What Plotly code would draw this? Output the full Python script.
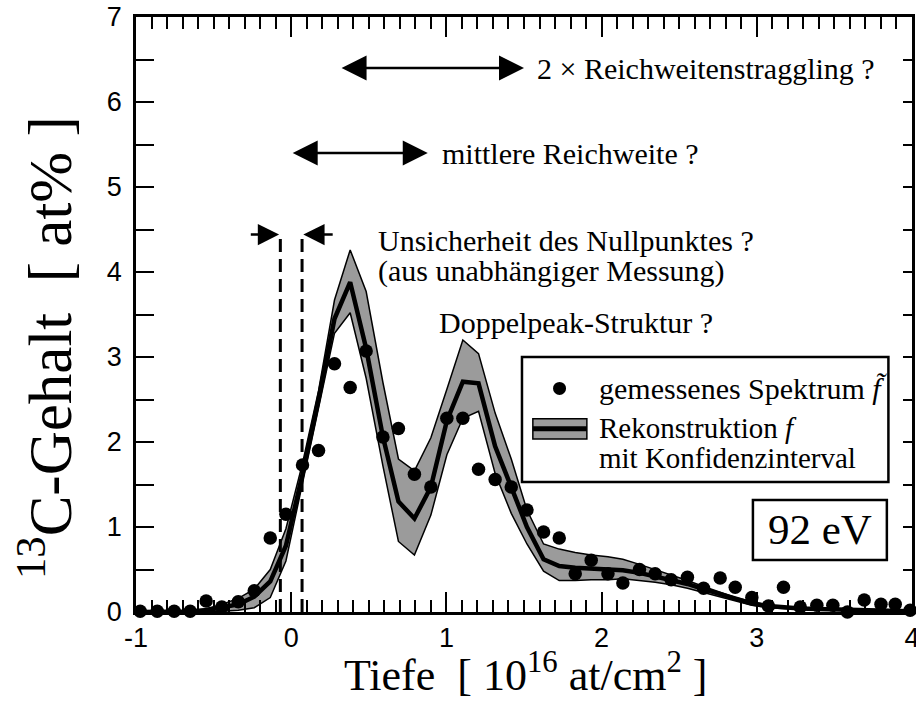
import plotly.graph_objects as go

# Depth grid (10^16 at/cm^2)
tiefe = [-0.973, -0.863, -0.754, -0.651, -0.548, -0.447, -0.341, -0.238, -0.135, -0.034,
         0.073, 0.176, 0.279, 0.380, 0.483, 0.591, 0.691, 0.794, 0.900, 1.003,
         1.106, 1.207, 1.314, 1.418, 1.519, 1.626, 1.727, 1.830, 1.933, 2.041,
         2.137, 2.244, 2.345, 2.448, 2.553, 2.657, 2.764, 2.861, 2.968, 3.075,
         3.172, 3.280, 3.387, 3.490, 3.584, 3.692, 3.800, 3.892, 3.988]

# Measured spectrum (at%)
gemessen = [0.01, 0.01, 0.01, 0.01, 0.13, 0.06, 0.12, 0.25, 0.87, 1.15,
            1.73, 1.90, 2.92, 2.64, 3.07, 2.06, 2.16, 1.62, 1.47, 2.28,
            2.28, 1.68, 1.56, 1.47, 1.20, 0.94, 0.87, 0.45, 0.61, 0.45,
            0.34, 0.50, 0.45, 0.38, 0.41, 0.28, 0.40, 0.29, 0.17, 0.07,
            0.29, 0.06, 0.08, 0.08, 0.00, 0.14, 0.09, 0.09, 0.02]

# Reconstruction and confidence interval (at%)
rekonstruktion = [0.0, 0.0, 0.0, 0.005, 0.02, 0.05, 0.09, 0.18, 0.36, 0.78,
                  1.62, 2.50, 3.45, 3.88, 3.10, 2.06, 1.30, 1.10, 1.47, 2.25,
                  2.71, 2.69, 1.95, 1.47, 1.00, 0.62, 0.54, 0.52, 0.51, 0.50,
                  0.49, 0.46, 0.42, 0.38, 0.33, 0.27, 0.21, 0.15, 0.10, 0.07,
                  0.05, 0.04, 0.035, 0.03, 0.025, 0.02, 0.02, 0.015, 0.01]
obere_grenze = [0.0, 0.0, 0.0, 0.01, 0.04, 0.09, 0.16, 0.27, 0.50, 0.98,
                1.75, 2.60, 3.67, 4.26, 3.77, 2.70, 1.80, 1.66, 2.05, 2.62,
                3.20, 3.04, 2.34, 1.80, 1.20, 0.80, 0.74, 0.70, 0.67, 0.65,
                0.62, 0.56, 0.50, 0.43, 0.37, 0.30, 0.23, 0.17, 0.12, 0.08,
                0.06, 0.05, 0.04, 0.035, 0.03, 0.025, 0.02, 0.02, 0.015]
untere_grenze = [0.0, 0.0, 0.0, 0.0, 0.0, 0.01, 0.02, 0.05, 0.17, 0.60,
                 1.50, 2.40, 3.28, 3.52, 2.75, 1.72, 0.83, 0.67, 1.14, 1.85,
                 2.28, 2.36, 1.63, 1.16, 0.80, 0.48, 0.37, 0.37, 0.38, 0.38,
                 0.39, 0.37, 0.35, 0.32, 0.28, 0.23, 0.18, 0.13, 0.08, 0.05,
                 0.04, 0.03, 0.03, 0.025, 0.02, 0.015, 0.015, 0.01, 0.01]

# Zero-point uncertainty, mean range and 2x range straggling (10^16 at/cm^2)
nullpunkt = [-0.07, 0.07]
mittlere_reichweite = [0.0, 0.88]
straggling = [0.315, 1.50]

x_ticks = [-1, 0, 1, 2, 3, 4]
y_ticks = [0, 1, 2, 3, 4, 5, 6, 7]

SERIF = "Liberation Serif, Times New Roman, serif"
SANS = "Liberation Sans, Arial, sans-serif"
GRAU = "#9b9b9b"

fig = go.Figure()

# confidence band
fig.add_trace(go.Scatter(x=tiefe, y=obere_grenze, mode="lines",
                         line=dict(color="black", width=1.5), showlegend=False,
                         hoverinfo="skip"))
fig.add_trace(go.Scatter(x=tiefe, y=untere_grenze, mode="lines", fill="tonexty",
                         fillcolor=GRAU, line=dict(color="black", width=1.5),
                         showlegend=False, hoverinfo="skip"))
# reconstruction
fig.add_trace(go.Scatter(x=tiefe, y=rekonstruktion, mode="lines",
                         line=dict(color="black", width=4.5), showlegend=False))
# measured spectrum
fig.add_trace(go.Scatter(x=tiefe, y=gemessen, mode="markers",
                         marker=dict(color="black", size=13.5), cliponaxis=False,
                         showlegend=False))

# invisible trace to carry the right-hand y axis
fig.add_trace(go.Scatter(x=[None], y=[None], yaxis="y2", showlegend=False))

shapes = []
# zero-point dashed markers
for xv in nullpunkt:
    shapes.append(dict(type="line", xref="x", yref="y", x0=xv, x1=xv, y0=0, y1=4.42,
                       line=dict(color="black", width=3, dash="13px,7px")))

# legend box
shapes.append(dict(type="rect", xref="x", yref="y", x0=1.487, x1=3.848, y0=1.53, y1=3.0,
                   line=dict(color="black", width=2.5), fillcolor="white", layer="above"))
# legend symbol: dot
shapes.append(dict(type="circle", xref="x", yref="y", x0=1.729 - 0.042, x1=1.729 + 0.042,
                   y0=2.63 - 0.077, y1=2.63 + 0.077, fillcolor="black",
                   line=dict(color="black", width=0), layer="above"))
# legend symbol: band with line
shapes.append(dict(type="rect", xref="x", yref="y", x0=1.557, x1=1.905, y0=2.035, y1=2.275,
                   fillcolor=GRAU, line=dict(color="black", width=1.5), layer="above"))
shapes.append(dict(type="line", xref="x", yref="y", x0=1.557, x1=1.905, y0=2.155, y1=2.155,
                   line=dict(color="black", width=5), layer="above"))
# energy box
shapes.append(dict(type="rect", xref="x", yref="y", x0=2.975, x1=3.838, y0=0.612, y1=1.318,
                   line=dict(color="black", width=2.5), fillcolor="white", layer="above"))

fig.update_layout(shapes=shapes)

annotations = []
# double arrows
for (xa, xb), yv in ((straggling, 6.4), (mittlere_reichweite, 5.4)):
    annotations.append(dict(x=xb, y=yv, ax=xa, ay=yv, xref="x", yref="y", axref="x", ayref="y",
                            text="", showarrow=True, arrowhead=2, arrowside="end+start",
                            arrowsize=2.0, arrowwidth=2.5, arrowcolor="black"))
# zero-point arrows pointing inwards
annotations.append(dict(x=nullpunkt[0] - 0.008, y=4.44, ax=-0.27, ay=4.44, xref="x", yref="y",
                        axref="x", ayref="y", text="", showarrow=True, arrowhead=2,
                        arrowsize=1.7, arrowwidth=2.5, arrowcolor="black"))
annotations.append(dict(x=nullpunkt[1] + 0.008, y=4.44, ax=0.277, ay=4.44, xref="x", yref="y",
                        axref="x", ayref="y", text="", showarrow=True, arrowhead=2,
                        arrowsize=1.7, arrowwidth=2.5, arrowcolor="black"))

texte = [
    ("2 × Reichweitenstraggling ?", 1.572, 6.4, 30),
    ("mittlere Reichweite ?", 0.96, 5.4, 30),
    ("Unsicherheit des Nullpunktes ?", 0.548, 4.37, 30),
    ("(aus unabhängiger Messung)", 0.548, 4.01, 30),
    ("Doppelpeak-Struktur ?", 0.94, 3.41, 30),
    ("gemessenes Spektrum <i>f\u0303</i>", 1.970, 2.63, 30),
    ("Rekonstruktion <i>f</i>", 1.970, 2.17, 29),
    ("mit Konfidenzinterval", 1.970, 1.81, 29),
]
for t, xv, yv, fs in texte:
    annotations.append(dict(text=t, x=xv, y=yv, xref="x", yref="y", xanchor="left",
                            yanchor="middle", showarrow=False,
                            font=dict(family=SERIF, size=fs, color="black")))

annotations.append(dict(text="92 eV", x=3.4065, y=0.965, xref="x", yref="y",
                        xanchor="center", yanchor="middle", showarrow=False,
                        font=dict(family=SERIF, size=43, color="black")))

# axis titles
annotations.append(dict(text="Tiefe  [ 10<sup>16</sup> at/cm<sup>2</sup> ]", x=526, y=702 - 672,
                        xref="paper", yref="paper", showarrow=False,
                        font=dict(family=SERIF, size=44, color="black")))
annotations.append(dict(text="<sup>13</sup>C-Gehalt  [ at% ]", x=45, y=702 - 348,
                        xref="paper", yref="paper", showarrow=False, textangle=-90,
                        font=dict(family=SERIF, size=61, color="black")))

# convert pixel-positioned titles to paper coordinates
L, R, T, B = 136, 4, 17, 90
W, H = 916, 702
for a in annotations[-2:]:
    a["x"] = (a["x"] - L) / (W - L - R)
    a["y"] = (a["y"] - B) / (H - T - B)
    a["xanchor"] = "center"
    a["yanchor"] = "middle"

fig.update_layout(annotations=annotations)

fig.update_layout(
    width=W, height=H,
    margin=dict(l=L, r=R, t=T, b=B, pad=0, autoexpand=False),
    paper_bgcolor="white", plot_bgcolor="white",
    showlegend=False,
    xaxis=dict(range=[-1, 4], tickvals=x_ticks, ticktext=[str(v) for v in x_ticks],
               ticks="inside", ticklen=20, tickwidth=2, tickcolor="black",
               minor=dict(dtick=0.1, ticks="inside", ticklen=12, tickwidth=2, tickcolor="black"),
               showline=True, linecolor="black", linewidth=2.5, mirror="ticks",
               showgrid=False, zeroline=False, ticklabeloverflow="allow", automargin=False,
               tickfont=dict(family=SANS, size=27, color="black")),
    yaxis=dict(range=[0, 7], tickvals=y_ticks, ticktext=[str(v) for v in y_ticks],
               ticks="inside", ticklen=18, tickwidth=2, tickcolor="black",
               minor=dict(dtick=0.5, ticks="inside", ticklen=18, tickwidth=2, tickcolor="black"),
               showline=True, linecolor="black", linewidth=2.5, automargin=False,
               showgrid=False, zeroline=False, ticklabelstandoff=6,
               tickfont=dict(family=SANS, size=27, color="black")),
    yaxis2=dict(range=[0, 7], overlaying="y", side="right", dtick=0.5,
                ticks="inside", ticklen=9, tickwidth=2, tickcolor="black",
                showticklabels=False, showline=True, linecolor="black", linewidth=2.5,
                showgrid=False, zeroline=False, automargin=False),
)

fig.write_html("out.html")
